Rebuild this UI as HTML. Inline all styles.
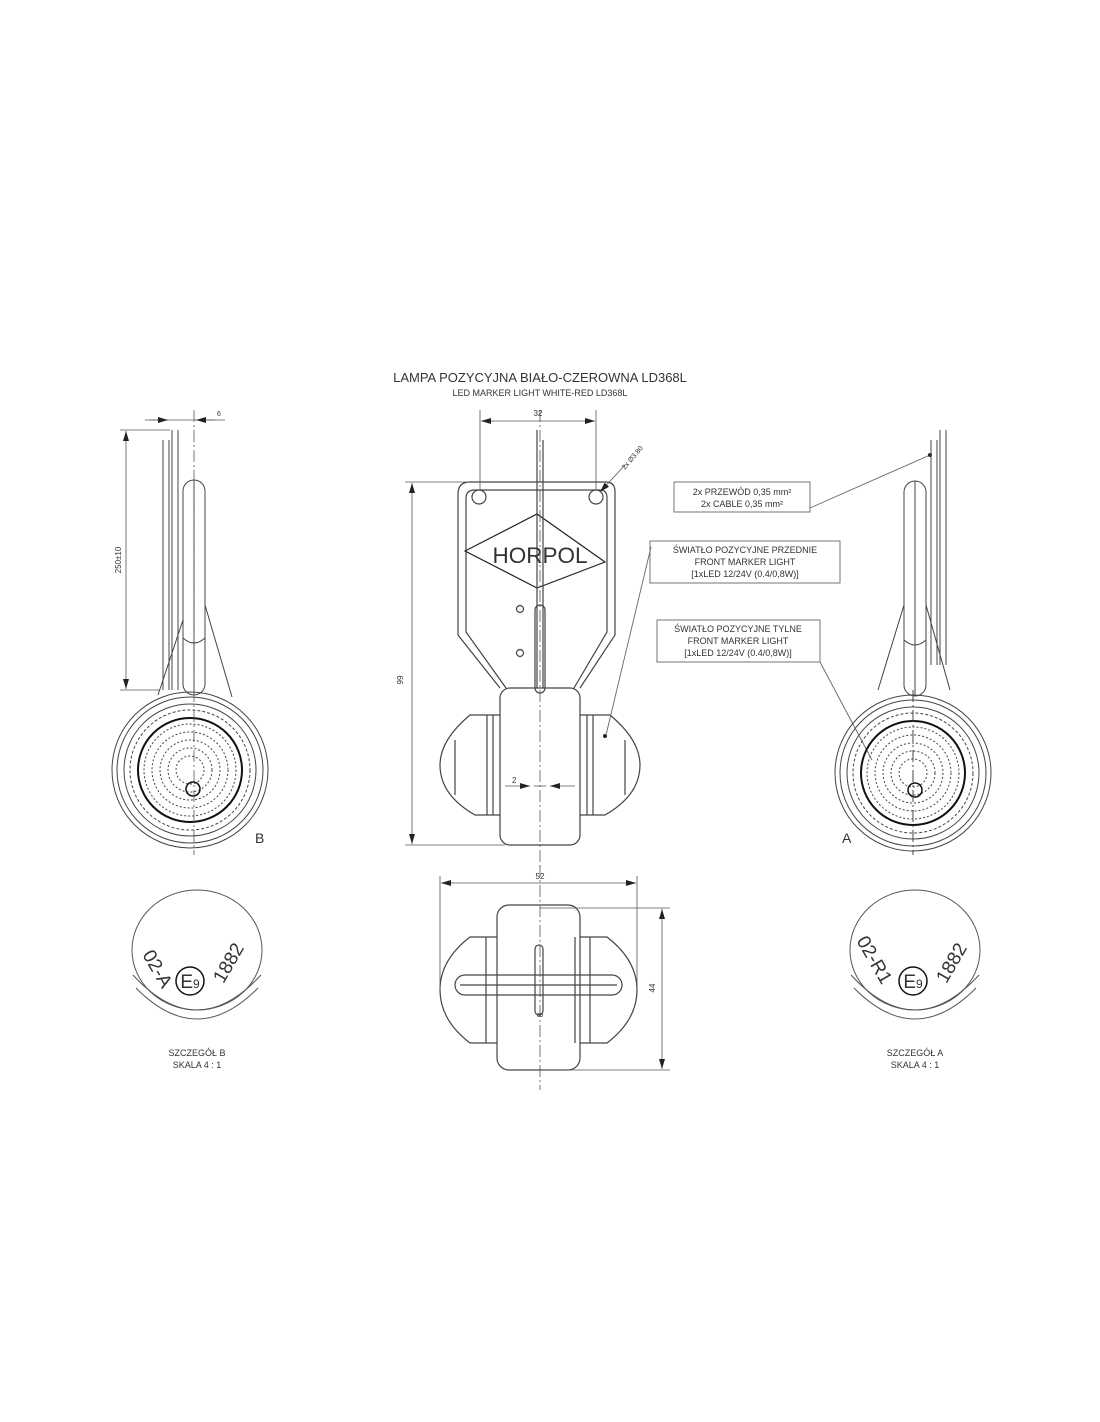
<!DOCTYPE html>
<html><head><meta charset="utf-8"><style>
html,body{margin:0;padding:0;background:#fff;}
svg{display:block;}
text{font-family:"Liberation Sans","DejaVu Sans",sans-serif;fill:#333;}
</style></head><body>
<svg width="1100" height="1422" viewBox="0 0 1100 1422" xmlns="http://www.w3.org/2000/svg">
<defs>
<marker id="ar" viewBox="0 0 10 6" refX="10" refY="3" markerWidth="10" markerHeight="6" orient="auto-start-reverse" markerUnits="userSpaceOnUse"><path d="M0,0L10,3L0,6z" fill="#222"/></marker>
</defs>
<text x="540" y="382" font-size="13" text-anchor="middle">LAMPA POZYCYJNA BIAŁO-CZEROWNA LD368L</text>
<text x="540" y="396" font-size="9" text-anchor="middle">LED MARKER LIGHT WHITE-RED LD368L</text>

<!-- ===== CENTER FRONT VIEW ===== -->
<g fill="none" stroke="#444" stroke-width="1.2">
<path d="M470,482 H606 Q615,482 615,492 V635 L580,688 M470,482 Q458,482 458,494 V635 L500,688"/>
<path d="M475,490 H600 Q607,490 607,498 V632 L574,688 M475,490 Q466,490 466,498 V632 L506,688"/>
<circle cx="479" cy="497" r="7"/><circle cx="596" cy="497" r="7"/>
<path d="M465,551 L537,514 L605,562 L537,588 Z" stroke="#222"/>
<circle cx="520" cy="609" r="3.5"/><circle cx="520" cy="653" r="3.5"/>
<rect x="535" y="605" width="10" height="88" rx="5"/>
<rect x="500" y="688" width="80" height="157" rx="10"/>
<path d="M500,715 H470 Q440,740 440,765 Q440,795 475,815 H500"/>
<path d="M580,715 H610 Q640,740 640,765 Q640,795 605,815 H580"/>
<path d="M487,715 V815 M493,715 V815 M587,715 V815 M593,715 V815"/>
<path d="M455,740 V795 M625,740 V795"/>
<path d="M537,430 V688 M543,440 V688"/>
</g>
<text x="540" y="563" font-size="22" text-anchor="middle" fill="#222" textLength="95" lengthAdjust="spacingAndGlyphs">HORPOL</text>
<circle cx="605" cy="736" r="2" fill="#222"/>
<g stroke="#555" stroke-width="0.8" fill="none">
<line x1="540" y1="410" x2="540" y2="870" stroke-dasharray="12,3,2,3"/>
<line x1="480" y1="410" x2="480" y2="490"/><line x1="596" y1="410" x2="596" y2="490"/>
<line x1="481" y1="421" x2="595" y2="421" marker-start="url(#ar)" marker-end="url(#ar)"/>
<line x1="405" y1="482" x2="470" y2="482"/><line x1="405" y1="845" x2="505" y2="845"/>
<line x1="412" y1="483" x2="412" y2="844" marker-start="url(#ar)" marker-end="url(#ar)"/>
<line x1="600" y1="492" x2="625" y2="465" marker-start="url(#ar)"/>
<line x1="505" y1="786" x2="530" y2="786" marker-end="url(#ar)"/><line x1="575" y1="786" x2="550" y2="786" marker-end="url(#ar)"/>
<line x1="534" y1="786" x2="546" y2="786"/>
</g>
<text x="538" y="416" font-size="8" text-anchor="middle">32</text>
<text x="403" y="680" font-size="8" transform="rotate(-90 403 680)" text-anchor="middle">99</text>
<text x="512" y="783" font-size="8">2</text>
<text x="625" y="470" font-size="7" transform="rotate(-50 625 470)">2x Ø3.80</text>

<g stroke="#666" stroke-width="0.9" fill="none">
<rect x="674" y="482" width="136" height="30"/>
<line x1="810" y1="508" x2="930" y2="455"/>
<rect x="650" y="541" width="190" height="42"/>
<line x1="651" y1="547" x2="606" y2="735"/>
<rect x="657" y="620" width="163" height="42"/>
<line x1="820" y1="662" x2="872" y2="760"/>
</g>
<circle cx="930" cy="455" r="2" fill="#222"/>
<g font-size="9" text-anchor="middle">
<text x="742" y="495">2x PRZEWÓD 0,35 mm²</text>
<text x="742" y="507">2x CABLE 0,35 mm²</text>
<text x="745" y="553">ŚWIATŁO POZYCYJNE PRZEDNIE</text>
<text x="745" y="565">FRONT MARKER LIGHT</text>
<text x="745" y="577">[1xLED 12/24V (0.4/0,8W)]</text>
<text x="738" y="632">ŚWIATŁO POZYCYJNE TYLNE</text>
<text x="738" y="644">FRONT MARKER LIGHT</text>
<text x="738" y="656">[1xLED 12/24V (0.4/0,8W)]</text>
</g>

<!-- LEFT SIDE VIEW -->
<g fill="none" stroke="#444" stroke-width="1">
<rect x="183" y="480" width="22" height="215" rx="11"/>
<line x1="194" y1="480" x2="194" y2="695"/>
<path d="M183,638 Q194,648 205,638"/>
<path d="M163,690 V440 M169,690 V440 M172,690 V430 M178,690 V430"/>
<line x1="183" y1="620" x2="158" y2="695"/><line x1="205" y1="605" x2="232" y2="697"/>
<circle cx="190" cy="770" r="78"/><circle cx="190" cy="770" r="73"/>
<circle cx="190" cy="770" r="66"/><circle cx="190" cy="770" r="60" stroke-dasharray="3,2"/>
<circle cx="190" cy="770" r="52" stroke="#111" stroke-width="2"/>
<circle cx="190" cy="770" r="46" stroke-dasharray="2,2"/>
<circle cx="190" cy="770" r="38" stroke-dasharray="2,2"/>
<circle cx="190" cy="770" r="30" stroke-dasharray="2,2"/>
<circle cx="190" cy="770" r="22" stroke-dasharray="2,2"/>
<circle cx="190" cy="770" r="14" stroke-dasharray="2,2"/>
<circle cx="193" cy="789" r="7" stroke="#111" stroke-width="1.5"/>
</g>
<g stroke="#555" stroke-width="0.8" fill="none">
<line x1="194" y1="410" x2="194" y2="855" stroke-dasharray="12,3,2,3"/>
<line x1="145" y1="420" x2="225" y2="420"/>
<line x1="150" y1="420" x2="168" y2="420" marker-end="url(#ar)"/><line x1="215" y1="420" x2="196" y2="420" marker-end="url(#ar)"/>
<line x1="120" y1="430" x2="170" y2="430"/><line x1="120" y1="690" x2="160" y2="690"/>
<line x1="126" y1="431" x2="126" y2="689" marker-start="url(#ar)" marker-end="url(#ar)"/>
</g>
<text x="217" y="416" font-size="7">6</text>
<text x="121" y="560" font-size="8" transform="rotate(-90 121 560)" text-anchor="middle">250±10</text>
<text x="255" y="843" font-size="14">B</text>

<!-- RIGHT SIDE VIEW -->
<g fill="none" stroke="#444" stroke-width="1">
<rect x="904" y="481" width="22" height="215" rx="11"/>
<line x1="915" y1="481" x2="915" y2="695"/>
<path d="M904,640 Q915,650 926,640"/>
<path d="M931,665 V440 M937,665 V440 M940,665 V430 M946,665 V430"/>
<line x1="904" y1="605" x2="878" y2="690"/><line x1="926" y1="605" x2="950" y2="690"/>
<circle cx="913" cy="773" r="78"/><circle cx="913" cy="773" r="73"/>
<circle cx="913" cy="773" r="66"/><circle cx="913" cy="773" r="60" stroke-dasharray="3,2"/>
<circle cx="913" cy="773" r="52" stroke="#111" stroke-width="2"/>
<circle cx="913" cy="773" r="46" stroke-dasharray="2,2"/>
<circle cx="913" cy="773" r="38" stroke-dasharray="2,2"/>
<circle cx="913" cy="773" r="30" stroke-dasharray="2,2"/>
<circle cx="913" cy="773" r="22" stroke-dasharray="2,2"/>
<circle cx="913" cy="773" r="14" stroke-dasharray="2,2"/>
<circle cx="915" cy="790" r="7" stroke="#111" stroke-width="1.5"/>
<line x1="913" y1="690" x2="913" y2="855" stroke-dasharray="12,3,2,3"/>
</g>
<text x="842" y="843" font-size="14">A</text>

<!-- DETAIL B -->
<g fill="none" stroke="#555" stroke-width="1">
<ellipse cx="197" cy="950" rx="65" ry="60"/>
<path d="M133,975 Q197,1045 261,975"/>
<path d="M136,988 Q197,1050 258,988"/>
<circle cx="190" cy="981" r="14" stroke="#111" stroke-width="1.5"/>
</g>
<text x="152" y="972" font-size="19" transform="rotate(60 152 972)" text-anchor="middle" fill="#222">02-A</text>
<text x="190" y="988" font-size="19" text-anchor="middle" fill="#222">E<tspan font-size="12">9</tspan></text>
<text x="234" y="966" font-size="19" transform="rotate(-60 234 966)" text-anchor="middle" fill="#222">1882</text>
<text x="197" y="1056" font-size="9" text-anchor="middle">SZCZEGÓŁ B</text>
<text x="197" y="1068" font-size="9" text-anchor="middle">SKALA 4 : 1</text>

<!-- DETAIL A -->
<g fill="none" stroke="#555" stroke-width="1">
<ellipse cx="915" cy="950" rx="65" ry="60"/>
<path d="M851,975 Q915,1045 979,975"/>
<path d="M854,988 Q915,1050 976,988"/>
<circle cx="913" cy="981" r="14" stroke="#111" stroke-width="1.5"/>
</g>
<text x="869" y="963" font-size="19" transform="rotate(60 869 963)" text-anchor="middle" fill="#222">02-R1</text>
<text x="913" y="988" font-size="19" text-anchor="middle" fill="#222">E<tspan font-size="12">9</tspan></text>
<text x="957" y="966" font-size="19" transform="rotate(-60 957 966)" text-anchor="middle" fill="#222">1882</text>
<text x="915" y="1056" font-size="9" text-anchor="middle">SZCZEGÓŁ A</text>
<text x="915" y="1068" font-size="9" text-anchor="middle">SKALA 4 : 1</text>

<!-- BOTTOM VIEW -->
<g fill="none" stroke="#444" stroke-width="1.2">
<path d="M497,937 H470 Q440,960 440,990 Q440,1020 470,1043 H497"/>
<path d="M580,937 H607 Q637,960 637,990 Q637,1020 607,1043 H580"/>
<path d="M486,937 V1043 M575,937 V1043 M590,937 V1043"/>
<rect x="497" y="905" width="83" height="165" rx="12"/>
<rect x="455" y="975" width="167" height="20" rx="10"/>
<line x1="460" y1="985" x2="617" y2="985"/>
<rect x="535" y="945" width="8" height="70" rx="4"/>
</g>
<g stroke="#555" stroke-width="0.8" fill="none">
<line x1="540" y1="865" x2="540" y2="1090" stroke-dasharray="12,3,2,3"/>
<line x1="440" y1="876" x2="440" y2="990"/><line x1="637" y1="876" x2="637" y2="990"/>
<line x1="441" y1="883" x2="636" y2="883" marker-start="url(#ar)" marker-end="url(#ar)"/>
<line x1="540" y1="908" x2="670" y2="908"/><line x1="540" y1="1070" x2="670" y2="1070"/>
<line x1="662" y1="909" x2="662" y2="1069" marker-start="url(#ar)" marker-end="url(#ar)"/>
</g>
<text x="540" y="879" font-size="8" text-anchor="middle">52</text>
<text x="655" y="988" font-size="8" transform="rotate(-90 655 988)" text-anchor="middle">44</text>
<text x="543" y="1015" font-size="8" transform="rotate(-90 543 1015)" text-anchor="middle">8</text>
</svg>
</body></html>
